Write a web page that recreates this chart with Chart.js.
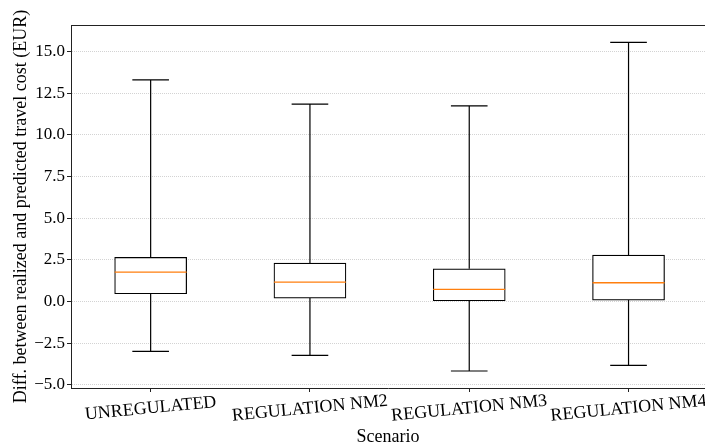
<!DOCTYPE html>
<html>
<head>
<meta charset="utf-8">
<script src="https://cdn.jsdelivr.net/npm/chart.js@4/dist/chart.umd.min.js"></script>
<style>
  html, body { margin: 0; padding: 0; background: #fff; }
  #wrap { width: 705px; height: 448px; }
</style>
</head>
<body>
<div id="wrap"><canvas id="boxChart"></canvas></div>
<script>
// scenario categories and their positions on the x axis
const categories = ['UNREGULATED', 'REGULATION NM2', 'REGULATION NM3', 'REGULATION NM4'];
const positions = [1, 2, 3, 4];

// box plot statistics (EUR)
const whiskerLow = [-3.0, -3.24, -4.18, -3.84];
const q1 = [0.46, 0.20, 0.04, 0.08];
const median = [1.76, 1.16, 0.72, 1.12];
const q3 = [2.64, 2.30, 1.96, 2.78];
const whiskerHigh = [13.3, 11.85, 11.74, 15.56];

// y tick labels
const yTicks = [-5, -2.5, 0, 2.5, 5, 7.5, 10, 12.5, 15];

const FONT = "'Liberation Serif', 'Times New Roman', 'DejaVu Serif', serif";
const boxHalf = 0.226;   // half box width in x units
const capHalf = 0.115;   // half cap width in x units

// build line segments (null points break the line)
const whiskerPts = [];
const capPts = [];
const medianPts = [];
positions.forEach((p, i) => {
  whiskerPts.push({x: p, y: whiskerLow[i]}, {x: p, y: q1[i]}, {x: p, y: null});
  whiskerPts.push({x: p, y: q3[i]}, {x: p, y: whiskerHigh[i]}, {x: p, y: null});
  capPts.push({x: p - capHalf, y: whiskerLow[i]}, {x: p + capHalf, y: whiskerLow[i]}, {x: p, y: null});
  capPts.push({x: p - capHalf, y: whiskerHigh[i]}, {x: p + capHalf, y: whiskerHigh[i]}, {x: p, y: null});
  medianPts.push({x: p - boxHalf, y: median[i]}, {x: p + boxHalf, y: median[i]}, {x: p, y: null});
});
const boxPts = positions.map((p, i) => ({x: p, y: [q1[i], q3[i]]}));

const lineDs = (data, color, width, order) => ({
  type: 'line', data: data, borderColor: color, borderWidth: width,
  pointRadius: 0, spanGaps: false, fill: false, order: order
});

// top spine and rotated category labels
const extras = {
  id: 'extras',
  afterDraw(chart) {
    const {ctx, chartArea} = chart;
    const xs = chart.scales.x;
    ctx.save();
    ctx.strokeStyle = '#222';
    ctx.lineWidth = 1;
    ctx.beginPath();
    ctx.moveTo(chartArea.left, chartArea.top + 0.5);
    ctx.lineTo(chartArea.right, chartArea.top + 0.5);
    ctx.stroke();

    ctx.fillStyle = '#000';
    ctx.font = '18px ' + FONT;
    ctx.textAlign = 'center';
    ctx.textBaseline = 'middle';
    const ang = 5.5 * Math.PI / 180;
    categories.forEach((c, i) => {
      const x = xs.getPixelForValue(positions[i]);
      ctx.save();
      ctx.translate(x, chartArea.bottom + 20.5);
      ctx.rotate(-ang);
      ctx.fillText(c, 0, 0);
      ctx.restore();
    });
    ctx.restore();
  }
};

new Chart(document.getElementById('boxChart'), {
  type: 'bar',
  data: {
    datasets: [
      lineDs(whiskerPts, '#000', 1.2, 4),
      lineDs(capPts, '#000', 1.2, 3),
      {
        type: 'bar', data: boxPts, backgroundColor: '#fff', borderColor: '#000',
        borderWidth: 1.2, borderSkipped: false, barThickness: 72, order: 2
      },
      lineDs(medianPts, '#ff7f0e', 1.4, 1)
    ]
  },
  plugins: [extras],
  options: {
    responsive: true,
    maintainAspectRatio: false,
    animation: false,
    layout: { padding: { top: 25, right: 0, left: 0, bottom: 0 } },
    plugins: { legend: { display: false }, tooltip: { enabled: false } },
    scales: {
      x: {
        type: 'linear',
        offset: false,
        min: 0.5,
        max: 4.48,
        afterBuildTicks: (s) => { s.ticks = positions.map(v => ({value: v})); },
        afterFit: (s) => { s.height = 60; },
        ticks: { display: false },
        grid: { offset: false, drawOnChartArea: false, drawTicks: true, tickLength: 4, tickColor: '#222', tickWidth: 1 },
        border: { display: true, color: '#222', width: 1 },
        title: {
          display: true, text: 'Scenario', color: '#000',
          font: { family: FONT, size: 18 }, padding: { top: 0, bottom: 0 }
        }
      },
      y: {
        min: -5.2,
        max: 16.6,
        afterBuildTicks: (s) => { s.ticks = yTicks.map(v => ({value: v})); },
        afterFit: (s) => { s.width = 71; },
        ticks: {
          color: '#000', padding: 2,
          font: { family: FONT, size: 17 },
          callback: (v) => (v < 0 ? '\u2212' + Math.abs(v).toFixed(1) : v.toFixed(1))
        },
        grid: {
          color: '#c8c8c8', lineWidth: 0.8, drawTicks: true, tickLength: 4,
          tickColor: '#222', tickWidth: 1, tickBorderDash: []
        },
        border: { display: true, color: '#222', width: 1, dash: [1, 1] },
        title: {
          display: true, text: 'Diff. between realized and predicted travel cost (EUR)', color: '#000',
          font: { family: FONT, size: 18 }, padding: { top: 10, bottom: 0 }
        }
      }
    }
  }
});
</script>
</body>
</html>
